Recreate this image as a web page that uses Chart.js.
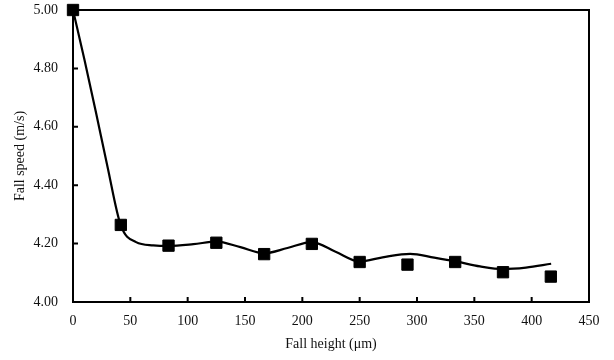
<!DOCTYPE html>
<html>
<head>
<meta charset="utf-8">
<script src="https://cdn.jsdelivr.net/npm/chart.js@4.4.0/dist/chart.umd.min.js"></script>
<style>
    body { margin: 0; background: #fff; }
</style>
</head>
<body>
<canvas id="fallChart" width="614" height="360"></canvas>
<script>
// Measured points (squares)
const heights = [0, 41.7, 83.3, 125, 166.7, 208.3, 250, 291.7, 333.3, 375, 416.7];
const speeds = [5.00, 4.264, 4.193, 4.203, 4.164, 4.199, 4.137, 4.128, 4.137, 4.102, 4.087];

// Smooth fitted line
const curveHeights = [0, 10, 20, 30, 41.7, 55, 70, 83.3, 105, 125, 146, 166.7, 187, 208.3, 229, 250, 270, 294, 315, 334, 355, 375, 395, 417];
const curveSpeeds = [5.00, 4.83, 4.65, 4.465, 4.262, 4.205, 4.194, 4.192, 4.198, 4.207, 4.188, 4.167, 4.185, 4.205, 4.172, 4.139, 4.153, 4.165, 4.152, 4.139, 4.122, 4.113, 4.118, 4.131];

// Axis ticks
const xTicks = [0, 50, 100, 150, 200, 250, 300, 350, 400, 450];
const yTicks = [4.0, 4.2, 4.4, 4.6, 4.8, 5.0];

Chart.defaults.font.family = "'Liberation Serif', 'Times New Roman', serif";
Chart.defaults.font.size = 14;
Chart.defaults.color = '#111';

// Draws the box round the plot and the small inward ticks
const frame = {
    id: 'frame',
    beforeDatasetsDraw(chart) {
        const { ctx, chartArea: a, scales } = chart;
        ctx.save();
        ctx.strokeStyle = '#000';
        ctx.lineWidth = 2;
        ctx.strokeRect(a.left, a.top, a.right - a.left, a.bottom - a.top);
        ctx.beginPath();
        xTicks.slice(1, -1).forEach((v) => {
            const px = scales.x.getPixelForValue(v);
            ctx.moveTo(px, a.bottom);
            ctx.lineTo(px, a.bottom - 5);
        });
        yTicks.slice(1, -1).forEach((v) => {
            const py = scales.y.getPixelForValue(v);
            ctx.moveTo(a.left, py);
            ctx.lineTo(a.left + 5, py);
        });
        ctx.stroke();
        ctx.restore();
    }
};

new Chart(document.getElementById('fallChart'), {
    type: 'line',
    data: {
        datasets: [
            {
                label: 'Measured',
                data: heights.map((h, i) => ({ x: h, y: speeds[i] })),
                showLine: false,
                pointStyle: 'rect',
                pointRadius: 8,
                pointBackgroundColor: '#000',
                pointBorderColor: '#000',
                pointBorderWidth: 1,
                clip: false
            },
            {
                label: 'Fit',
                data: curveHeights.map((h, i) => ({ x: h, y: curveSpeeds[i] })),
                borderColor: '#000',
                borderWidth: 2.2,
                pointRadius: 0,
                cubicInterpolationMode: 'monotone',
                fill: false,
                clip: false
            }
        ]
    },
    options: {
        responsive: false,
        animation: false,
        layout: { padding: { left: 0, top: 10, right: 25, bottom: 0 } },
        plugins: {
            legend: { display: false },
            tooltip: { enabled: false }
        },
        scales: {
            x: {
                type: 'linear',
                min: 0,
                max: 450,
                afterBuildTicks: (scale) => { scale.ticks = xTicks.map((v) => ({ value: v })); },
                afterFit: (scale) => {
                    scale.height = 58;
                    scale.paddingLeft = 0;
                    scale.paddingRight = 0;
                },
                ticks: { padding: 11, maxRotation: 0 },
                grid: { display: false, drawTicks: false },
                border: { display: false },
                title: { display: true, text: 'Fall height (μm)', padding: { top: 0, bottom: 7 } }
            },
            y: {
                min: 4,
                max: 5,
                afterBuildTicks: (scale) => { scale.ticks = yTicks.map((v) => ({ value: v })); },
                afterFit: (scale) => {
                    scale.width = 73;
                    scale.paddingTop = 0;
                    scale.paddingBottom = 0;
                },
                ticks: { padding: 15, callback: (v) => v.toFixed(2) },
                grid: { display: false, drawTicks: false },
                border: { display: false },
                title: { display: true, text: 'Fall speed (m/s)', padding: { top: 12, bottom: 0 } }
            }
        }
    },
    plugins: [frame]
});
</script>
</body>
</html>
